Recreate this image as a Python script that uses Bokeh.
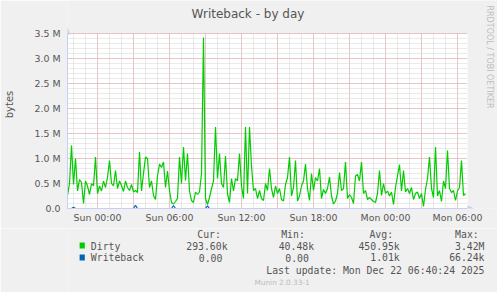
import pandas as pd
from bokeh.plotting import figure
from bokeh.layouts import column
from bokeh.models import ColumnDataSource, FixedTicker, Range1d, DatetimeTickFormatter
from bokeh.core.properties import value
from bokeh.embed import file_html
from bokeh.resources import INLINE

# ---------------- data ----------------
start_time = "2025-12-20 21:30"
sample_step = "10min"

# Dirty, in M (1e6 bytes), 10-minute samples
dirty_m = [
    0.26, 0.50, 1.26, 0.48, 1.00, 0.35, 0.58, 0.52, 0.10, 0.55,
    0.45, 0.28, 0.50, 0.45, 1.03, 0.30, 0.45, 0.35, 0.55, 0.42,
    0.62, 0.96, 0.50, 0.45, 0.76, 0.40, 0.55, 0.46, 0.34, 0.55,
    0.42, 0.36, 0.48, 0.33, 0.36, 0.32, 1.13, 0.35, 0.70, 1.03,
    1.00, 0.42, 0.55, 0.26, 0.18, 0.65, 0.89, 0.82, 0.93, 0.42,
    0.75, 0.36, 0.12, 0.09, 0.14, 0.20, 1.03, 0.50, 1.23, 0.56,
    1.10, 0.35, 0.16, 0.12, 0.33, 0.28, 0.33, 0.70,
    3.42, 0.20, 0.08, 0.22, 0.40, 0.55, 1.63, 0.60, 1.10, 0.50,
    0.42, 1.05, 0.30, 0.12, 0.60, 0.35, 0.60, 0.55, 1.10, 0.45,
    0.20, 1.63, 0.30, 1.63, 0.85, 0.36, 0.40, 0.20, 0.36, 0.20,
    0.16, 0.50, 0.36, 0.80, 0.40, 0.22, 0.45, 0.30, 0.40, 0.18,
    0.15, 0.48, 0.62, 1.03, 0.25, 0.42, 0.96, 0.15, 0.25, 0.45,
    0.55, 0.89, 0.40, 0.16, 0.70, 0.36, 0.62, 0.55, 0.80, 0.20,
    0.38, 0.30, 0.40, 0.63, 0.25, 0.09,
    0.15, 0.30, 0.72, 0.36, 0.40, 0.93, 0.20, 0.28, 0.22, 0.10,
    0.65, 0.68, 0.55, 0.93, 0.30, 0.36, 0.18, 0.22, 0.18, 0.14,
    0.12, 0.30, 0.76, 0.26, 0.50, 0.30, 0.35, 0.25, 0.33, 0.08,
    0.42, 0.65, 0.88, 0.35, 0.76, 0.33, 0.40, 0.30, 0.42, 0.18,
    0.30, 0.33, 0.20, 0.30, 0.0405, 0.38, 0.60, 1.03, 0.40, 0.22,
    1.23, 0.25, 0.36, 0.14, 0.55, 0.40, 1.16, 0.40, 0.32, 0.36,
    0.16, 0.35, 0.42, 0.96, 0.26, 0.2936,
]

# Writeback, in k (1e3 bytes)
writeback_k = [
    0, 0, 0, 24, 0, 0, 0, 0, 0, 0, 0, 0, 0, 0, 0, 0, 0, 0, 0, 0,
    0, 0, 0, 0, 0, 0, 0, 0, 0, 0, 0, 0, 0, 0, 66.24, 0, 0, 0, 0, 0,
    0, 0, 0, 0, 0, 0, 0, 0, 0, 0, 0, 0, 0, 60, 0, 0, 0, 0, 0, 0,
    0, 0, 0, 0, 0, 0, 0, 0, 0, 0, 52, 0, 0, 0, 0, 0, 0, 0, 0, 0,
    0, 0, 0, 0, 0, 0, 0, 0, 0, 0, 0, 0, 0, 0, 0, 0, 0, 0, 0, 0,
    0, 0, 0, 0, 0, 0, 0, 0, 0, 0, 0, 0, 0, 0, 0, 0, 0, 0, 0, 0,
    0, 0, 0, 0, 0, 0, 0, 0, 0, 0, 0, 0, 0, 0, 0, 0, 0, 0, 0, 0,
    0, 0, 0, 0, 0, 0, 0, 0, 0, 0, 0, 0, 0, 0, 0, 0, 0, 0, 0, 0,
    0, 0, 0, 0, 0, 0, 0, 0, 0, 0, 0, 0, 0, 0, 0, 0, 0, 0, 0, 0,
    0, 0, 0, 0, 0, 0, 0, 0, 0, 0, 0, 0, 0, 0, 0, 0, 0, 0, 0, 0,
]

series_names = ["Dirty", "Writeback"]
series_colors = ["#00CC00", "#0066B3"]
stat_headers = ["Cur:", "Min:", "Avg:", "Max:"]
dirty_stats = ["293.60k", "40.48k", "450.95k", "3.42M"]
writeback_stats = ["0.00", "0.00", "1.01k", "66.24k"]

y_tick_values = [0, 500000, 1000000, 1500000, 2000000, 2500000, 3000000, 3500000]
y_tick_labels = ["0.0", "0.5 M", "1.0 M", "1.5 M", "2.0 M", "2.5 M", "3.0 M", "3.5 M"]
y_max = 3500000
x_tick_times = ["2025-12-21 00:00", "2025-12-21 06:00", "2025-12-21 12:00",
                "2025-12-21 18:00", "2025-12-22 00:00", "2025-12-22 06:00"]
x_start = "2025-12-20 21:30"   # left edge of the graph area
x_end = "2025-12-22 06:50"     # right edge of the graph area

title_text = "Writeback - by day"
y_label_text = "bytes"
side_text = "RRDTOOL / TOBI OETIKER"
last_update_text = "Last update: Mon Dec 22 06:40:24 2025"
version_text = "Munin 2.0.33-1"

# ---------------- helpers ----------------
def ms(s):
    return pd.Timestamp(s).value // 10**6

HOUR = 3600000
W = 497
FL, FR, FT, FB = 67, 467, 33, 208          # graph area in canvas pixels
TOP_H = 228                                # height of the upper figure
PX_PER_HOUR = (FR - FL) / ((ms(x_end) - ms(x_start)) / HOUR)
PX_PER_UNIT = (FB - FT) / y_max
BG = "#F0F0F0"

times = pd.date_range(start_time, periods=len(dirty_m), freq=sample_step)
src = ColumnDataSource(dict(
    t=times,
    dirty=[v * 1e6 for v in dirty_m],
    wb=[v * 1e3 for v in writeback_k],
))

# frame of the upper figure spans x 67..497, y 0..208
frame_x_end = ms(x_start) + (W - FL) / PX_PER_HOUR * HOUR
frame_y_end = FB / PX_PER_UNIT

p = figure(width=W, height=TOP_H, output_backend="svg", toolbar_location=None,
           x_axis_type="datetime",
           x_range=Range1d(ms(x_start), frame_x_end),
           y_range=Range1d(0, frame_y_end),
           min_border_left=FL, min_border_right=0, min_border_top=0,
           min_border_bottom=TOP_H - FB)
p.extra_x_ranges = {"px": Range1d(FL, W)}
p.extra_y_ranges = {"px": Range1d(FB, 0)}
p.border_fill_color = BG
p.background_fill_color = BG
p.outline_line_color = None

# white graph canvas
p.quad(left=[FL], right=[FR], top=[FT], bottom=[FB], x_range_name="px", y_range_name="px",
       fill_color="#FFFFFF", line_color=None, level="image")

# grid
major_x = [ms("2025-12-21 00:00") + i * 3 * HOUR for i in range(11)]
minor_x = [ms("2025-12-20 22:00") + i * HOUR for i in range(33)]
minor_y = [i * 100000 for i in range(36)]
p.xgrid.ticker = FixedTicker(ticks=major_x, minor_ticks=minor_x)
p.ygrid.ticker = FixedTicker(ticks=y_tick_values, minor_ticks=minor_y)
p.xgrid.cross_bounds = (0, y_max)
p.ygrid.cross_bounds = (ms(x_start), ms(x_end))
for g in (p.xgrid, p.ygrid):
    g.grid_line_color = "#E8A0A0"
    g.grid_line_dash = "1 1"
    g.grid_line_width = 1
    g.minor_grid_line_color = "#D4D4D4"
    g.minor_grid_line_dash = "1 1"
    g.minor_grid_line_width = 1

# axes
axis_color = "#C8CEF4"
text_color = "#555555"
p.yaxis.ticker = FixedTicker(ticks=y_tick_values)
p.yaxis.major_label_overrides = dict(zip(y_tick_values, y_tick_labels))
p.yaxis.bounds = (0, y_max)
p.xaxis.ticker = FixedTicker(ticks=[ms(s) for s in x_tick_times])
p.xaxis.bounds = (ms(x_start), ms(x_end))
fmt = "%a %H:%M"
p.xaxis.formatter = DatetimeTickFormatter(
    microseconds=fmt, milliseconds=fmt, seconds=fmt, minsec=fmt, minutes=fmt,
    hourmin=fmt, hours=fmt, days=fmt, months=fmt, years=fmt)
for ax in (p.xaxis[0], p.yaxis[0]):
    ax.axis_line_color = axis_color
    ax.axis_line_width = 1
    ax.major_tick_line_color = None
    ax.minor_tick_line_color = None
    ax.major_tick_out = 0
    ax.major_tick_in = 0
    ax.major_label_text_font = "DejaVu Sans"
    ax.major_label_text_font_size = "9.4px"
    ax.major_label_text_color = text_color
p.yaxis.major_label_standoff = 7
p.xaxis.major_label_standoff = 3
p.yaxis.axis_label = y_label_text
p.yaxis.axis_label_text_font = "DejaVu Sans"
p.yaxis.axis_label_text_font_size = "10px"
p.yaxis.axis_label_text_font_style = "normal"
p.yaxis.axis_label_text_color = text_color
p.yaxis.axis_label_standoff = 17

# data lines
p.line("t", "dirty", source=src, line_color=series_colors[0], line_width=1.2)
p.line("t", "wb", source=src, line_color=series_colors[1], line_width=1.2)

# axis arrows (pixel coords)
p.patches(xs=[[64, 70, 67], [467, 467, 474]], ys=[[34, 34, 27], [205, 211, 208]],
          x_range_name="px", y_range_name="px", fill_color=axis_color, line_color=None)

# title and side text (pixel coords)
p.text(x=[247.5], y=[13], text=[title_text], x_range_name="px", y_range_name="px",
       text_font=value("DejaVu Sans"), text_font_size="12px", text_color=text_color,
       text_align="center", text_baseline="middle")
p.text(x=[488.5], y=[5], text=[side_text], x_range_name="px", y_range_name="px",
       text_font=value("DejaVu Sans"), text_font_size="8px", text_color="#BEBEBE",
       text_align="left", text_baseline="middle", angle=-1.5707963)

# ---------------- legend figure ----------------
b = figure(width=W, height=292 - TOP_H, output_backend="svg", toolbar_location=None,
           x_range=Range1d(0, W), y_range=Range1d(292, TOP_H),
           x_axis_location=None, y_axis_location=None, min_border=0)
b.grid.visible = False
b.outline_line_color = None
b.border_fill_color = BG
b.background_fill_color = BG

mono = value("DejaVu Sans Mono")
fs = "9.8px"
row_y = [245.5, 257]
b.quad(left=[14, 14], right=[20, 20], top=[242, 254], bottom=[248, 260],
       fill_color=series_colors, line_color=None)
b.text(x=[150, 247, 349, 448], y=[234] * 4, text=stat_headers, text_font=mono,
       text_font_size=fs, text_color=text_color, text_align="left", text_baseline="middle")
b.text(x=[27, 27], y=row_y, text=series_names, text_font=mono,
       text_font_size=fs, text_color=text_color, text_align="left", text_baseline="middle")
b.text(x=[185, 285, 384, 482], y=[row_y[0]] * 4, text=dirty_stats, text_font=mono,
       text_font_size=fs, text_color=text_color, text_align="right", text_baseline="middle")
b.text(x=[179, 279, 384, 482], y=[row_y[1]] * 4, text=writeback_stats, text_font=mono,
       text_font_size=fs, text_color=text_color, text_align="right", text_baseline="middle")
b.text(x=[482], y=[270], text=[last_update_text], text_font=mono,
       text_font_size=fs, text_color=text_color, text_align="right", text_baseline="middle")
b.text(x=[248], y=[282], text=[version_text], text_font=value("DejaVu Sans"),
       text_font_size="7.3px", text_color="#BBBBBB", text_align="center",
       text_baseline="middle")

layout = column(p, b, spacing=0)
html = file_html(layout, INLINE)
html = html.replace("<body>", '<body style="margin:0;background:%s;">' % BG, 1)
open("out.html", "w").write(html)
